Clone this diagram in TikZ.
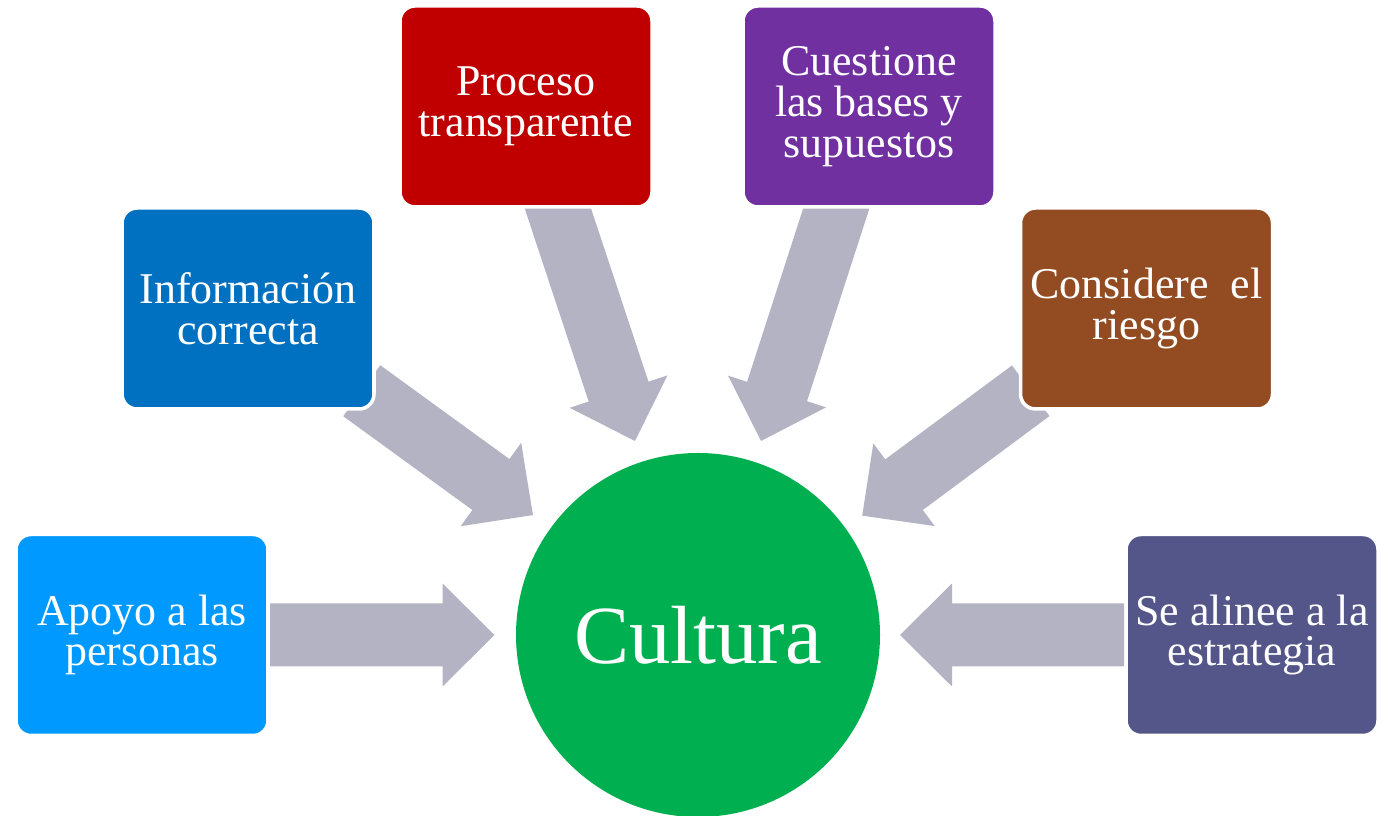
\documentclass[tikz,border=0pt]{standalone}
\usepackage{fontspec}
\setmainfont{Liberation Serif}
\usetikzlibrary{calc,backgrounds}

\definecolor{apoyoblue}{RGB}{0,153,255}
\definecolor{infoblue}{RGB}{0,112,192}
\definecolor{procred}{RGB}{192,0,0}
\definecolor{cuestpurple}{RGB}{112,48,160}
\definecolor{considbrown}{RGB}{147,76,34}
\definecolor{alineaslate}{RGB}{84,86,138}
\definecolor{cultgreen}{RGB}{0,176,80}
\definecolor{arrowgray}{RGB}{179,179,196}

\tikzset{
  card/.style={rectangle, rounded corners=0.3cm, fill=#1, draw=white, line width=2pt,
    minimum width=5.04cm, minimum height=4.02cm, text=white, align=center,
    font=\fontsize{25}{23.2}\selectfont},
  arrowfill/.style={fill=arrowgray}
}

% block arrow from #1 (tail) to #2 (tip)
\newcommand{\blockarrow}[2]{%
  \fill[arrowfill] let \p1=(#1), \p2=(#2), \n1={atan2(\y2-\y1,\x2-\x1)} in
    ($(\p1)+({\n1+90}:0.63)$) -- ($(\p2)+({\n1+180}:1.04)+({\n1+90}:0.63)$)
    -- ($(\p2)+({\n1+180}:1.04)+({\n1+90}:1.03)$) -- (\p2)
    -- ($(\p2)+({\n1+180}:1.04)+({\n1-90}:1.03)$)
    -- ($(\p2)+({\n1+180}:1.04)+({\n1-90}:0.63)$)
    -- ($(\p1)+({\n1-90}:0.63)$) -- cycle;}

\begin{document}
\begin{tikzpicture}
    \useasboundingbox (0,0) rectangle (27.54,16.32);
    % centre
    \node[circle, fill=cultgreen, minimum size=7.28cm, text=white,
      font=\fontsize{47}{52}\selectfont] (cult) at (13.96,3.62) {Cultura};
    % boxes
    \node[card=apoyoblue] (apoyo) at (2.84,3.62) {Apoyo a las\\personas};
    \node[card=infoblue] (info) at (4.96,10.15) {Información\\correcta};
    \node[card=procred] (proc) at (10.52,14.19) {Proceso\\transparente};
    \node[card=cuestpurple] (cuest) at (17.38,14.19) {Cuestione\\las bases y\\supuestos};
    \node[card=considbrown] (consid) at (22.93,10.15) {Considere~ el\\riesgo};
    \node[card=alineaslate] (alinea) at (25.04,3.62) {Se alinee a la\\estrategia};
    % arrow ends
    \coordinate (tail2) at ($(info.south east)+(-0.28,0.40)$);
    \coordinate (tail3) at ($(proc.south)+(0.52,0.36)$);
    \coordinate (tail4) at ($(cuest.south)+(-0.54,0.36)$);
    \coordinate (tail5) at ($(consid.south west)+(0.24,0.40)$);
    \coordinate (tip1) at ($(cult)+(180:4.07)$);
    \coordinate (tip2) at ($(cult)+(144:4.08)$);
    \coordinate (tip3) at ($(cult)+(108:4.08)$);
    \coordinate (tip4) at ($(cult)+(72:4.08)$);
    \coordinate (tip5) at ($(cult)+(36:4.06)$);
    \coordinate (tip6) at ($(cult)+(0:4.04)$);
    \begin{scope}[on background layer]
      \blockarrow{apoyo.east}{tip1}
      \blockarrow{tail2}{tip2}
      \blockarrow{tail3}{tip3}
      \blockarrow{tail4}{tip4}
      \blockarrow{tail5}{tip5}
      \blockarrow{alinea.west}{tip6}
    \end{scope}
\end{tikzpicture}
\end{document}
